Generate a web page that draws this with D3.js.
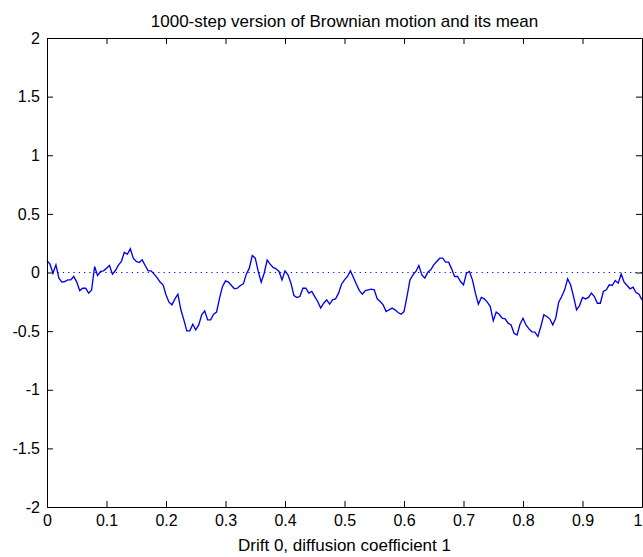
<!DOCTYPE html>
<html><head><meta charset="utf-8">
<script src="https://cdn.jsdelivr.net/npm/d3@7"></script>
<style>
html,body{margin:0;padding:0;background:#fff;}
svg{display:block;}
text{font-family:"Liberation Sans",Arial,sans-serif;fill:#000;}
</style></head>
<body><svg id="c" width="643" height="557"></svg>
<script>
// Data
const titleText = "1000-step version of Brownian motion and its mean";
const xLabelText = "Drift 0, diffusion coefficient 1";
const totalSteps = 1000;
const sampleEvery = 5; // path read every 5 steps
const pathValues = [
 0.10,0.071,-0.006,0.065,-0.048,-0.082,-0.077,-0.063,-0.063,-0.034,
 -0.082,-0.154,-0.134,-0.134,-0.176,-0.148,0.051,-0.026,0.009,0.014,
 0.037,0.06,-0.014,0.017,0.063,0.094,0.173,0.156,0.202,0.122,
 0.094,0.085,0.108,0.06,0.014,0.014,-0.014,-0.043,-0.082,-0.105,
 -0.19,-0.253,-0.276,-0.225,-0.185,-0.318,-0.404,-0.498,-0.498,-0.441,
 -0.49,-0.447,-0.361,-0.327,-0.404,-0.404,-0.356,-0.338,-0.219,-0.119,
 -0.071,-0.082,-0.111,-0.139,-0.134,-0.111,-0.097,-0.014,0.037,0.145,
 0.122,0.009,-0.082,-0.006,0.105,0.071,0.043,0.031,0.009,-0.063,
 0.014,-0.02,-0.091,-0.196,-0.213,-0.205,-0.134,-0.134,-0.176,-0.162,
 -0.205,-0.247,-0.304,-0.262,-0.233,-0.27,-0.233,-0.225,-0.176,-0.10,
 -0.063,-0.034,0.014,-0.043,-0.10,-0.154,-0.185,-0.154,-0.148,-0.142,
 -0.148,-0.225,-0.247,-0.276,-0.333,-0.318,-0.304,-0.318,-0.341,-0.356,
 -0.333,-0.205,-0.063,-0.02,0.009,0.06,-0.02,-0.048,0.003,0.023,
 0.065,0.094,0.122,0.122,0.088,0.088,0.031,-0.034,-0.034,-0.077,
 -0.105,-0.006,0.009,-0.063,-0.176,-0.27,-0.213,-0.225,-0.253,-0.29,
 -0.412,-0.338,-0.356,-0.39,-0.395,-0.432,-0.447,-0.518,-0.532,-0.441,
 -0.39,-0.447,-0.481,-0.506,-0.509,-0.546,-0.461,-0.361,-0.375,-0.395,
 -0.447,-0.39,-0.253,-0.205,-0.148,-0.054,-0.105,-0.205,-0.318,-0.282,
 -0.213,-0.225,-0.213,-0.176,-0.205,-0.262,-0.262,-0.162,-0.148,-0.105,
 -0.111,-0.068,-0.091,-0.014,-0.082,-0.111,-0.139,-0.125,-0.171,-0.185,
 -0.233
];
const meanValue = 0;
const xTicks = [0,0.1,0.2,0.3,0.4,0.5,0.6,0.7,0.8,0.9,1];
const yTicks = [-2,-1.5,-1,-0.5,0,0.5,1,1.5,2];

const svg = d3.select("#c");
const L = 47, R = 642, T = 38, B = 507;
const x = d3.scaleLinear().domain([0,1]).range([L,R]);
const y = d3.scaleLinear().domain([-2,2]).range([B,T]);

const pts = pathValues.map((v,i)=>({t:(i*sampleEvery)/totalSteps, v}));

// mean dotted line
svg.append("line")
  .attr("x1",x(0)).attr("x2",x(1)).attr("y1",y(meanValue)).attr("y2",y(meanValue))
  .attr("stroke","#0000ff").attr("stroke-width",1).attr("stroke-dasharray","1.2,4.1");

// path
svg.append("path").datum(pts)
  .attr("fill","none").attr("stroke","#0000f0").attr("stroke-width",1.35)
  .attr("stroke-linejoin","miter")
  .attr("d", d3.line().x(d=>x(d.t)).y(d=>y(d.v)));

const tickLen = 6;
const fmt = d => (d===0?"0":String(d));
// axes
const axB = svg.append("g").attr("transform",`translate(0,${B})`)
  .call(d3.axisBottom(x).tickValues(xTicks).tickFormat(fmt).tickSizeInner(-tickLen).tickSizeOuter(0).tickPadding(8));
const axT = svg.append("g").attr("transform",`translate(0,${T})`)
  .call(d3.axisTop(x).tickValues(xTicks).tickFormat("").tickSizeInner(-tickLen).tickSizeOuter(0));
const axL = svg.append("g").attr("transform",`translate(${L},0)`)
  .call(d3.axisLeft(y).tickValues(yTicks).tickFormat(fmt).tickSizeInner(-tickLen).tickSizeOuter(0).tickPadding(7));
const axR = svg.append("g").attr("transform",`translate(${R},0)`)
  .call(d3.axisRight(y).tickValues(yTicks).tickFormat("").tickSizeInner(-tickLen).tickSizeOuter(0));
[axB,axT,axL,axR].forEach(a=>{
  a.selectAll("path.domain").attr("stroke","#000").attr("stroke-width",1);
  a.selectAll("line").attr("stroke","#000").attr("stroke-width",1);
  a.selectAll("text").style("font-size","16px").attr("fill","#000")
    .style("font-family","'Liberation Sans',Arial,sans-serif");
});
// keep the last x tick label inside the picture
axB.selectAll(".tick").filter(d=>d===1).select("text").attr("text-anchor","end").attr("dx","0");

svg.append("text").attr("x",(L+R)/2).attr("y",27).attr("text-anchor","middle")
  .style("font-size","17px").text(titleText);
svg.append("text").attr("x",(L+R)/2).attr("y",551).attr("text-anchor","middle")
  .style("font-size","17px").text(xLabelText);
</script></body></html>
